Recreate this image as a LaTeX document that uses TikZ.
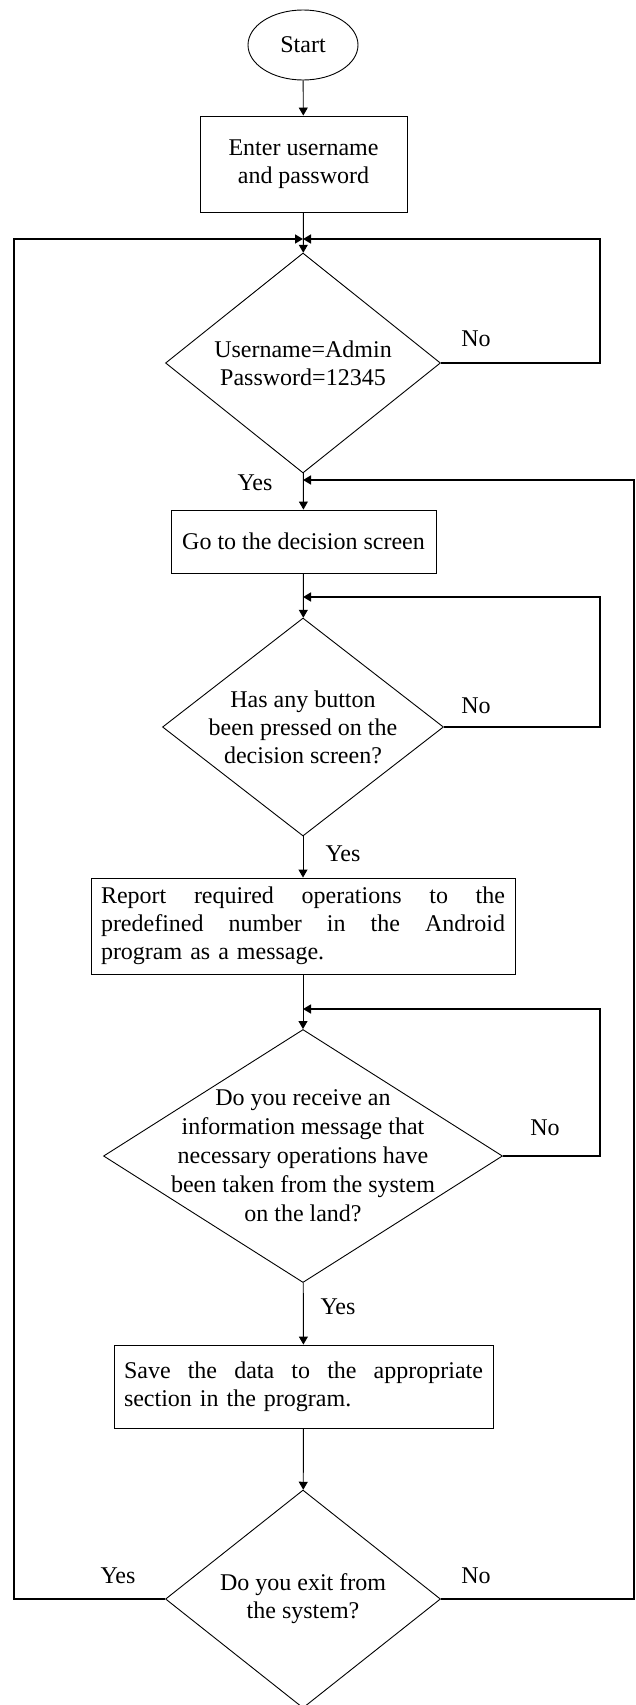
\documentclass[tikz,border=0pt]{standalone}
\usepackage{fontspec}
\setmainfont{Liberation Serif}
\usetikzlibrary{shapes.geometric,arrows.meta}

% linha justificada
\newcommand{\fullline}[2]{\makebox[#1][s]{\spaceskip=0pt\relax #2}}

\begin{document}
\begin{tikzpicture}[x=1pt,y=-1pt,
    font=\fontsize{24}{28}\selectfont,
    shapeline/.style={draw, line width=0.9pt},
    process/.style={shapeline, rectangle, align=center, inner sep=0pt},
    decision/.style={shapeline, diamond, inner sep=0pt},
    flow/.style={line width=0.9pt, -{Triangle[length=8pt,width=9pt]}},
    back/.style={line width=1.5pt, -{Triangle[length=8pt,width=9pt]}}]
      \useasboundingbox (0,0) rectangle (636,1705);

      % Inicio
      \node[shapeline, ellipse, minimum width=110, minimum height=70, inner sep=0pt] (start) at (303,45) {Start};
      \node[process, minimum width=207, minimum height=96] (enter) at (303.5,164) {Enter username\\and password};

      % Login
      \node[decision, minimum width=275, minimum height=220] (d1) at (303,363) {};
      \node[align=center] (d1t) at (d1) {Username=Admin\\Password=12345};
      \node[process, minimum width=265, minimum height=63] (go) at (303.5,541.5) {Go to the decision screen};

      % Botao
      \node[decision, minimum width=281, minimum height=218] (d2) at (303,727) {};
      \node[align=center] (d2t) at (d2) {Has any button\\been pressed on the\\decision screen?};
      \node[process, align=left, text width=404, inner xsep=10pt, minimum height=96] (report) at (303,926)
        {\fullline{404pt}{Report required operations to the}\\
         \fullline{404pt}{predefined number in the Android}\\
         program as a message.};

      % Mensagem
      \node[decision, minimum width=399, minimum height=253] (d3) at (303,1156) {};
      \node[align=center, font=\fontsize{24}{29}\selectfont] (d3t) at (d3) {Do you receive an\\information message that\\necessary operations have\\been taken from the system\\on the land?};
      \node[process, align=left, text width=359, inner xsep=10pt, minimum height=83] (save) at (303.5,1386.5)
        {\fullline{359pt}{Save the data to the appropriate}\\
         section in the program.};

      % Saida
      \node[decision, minimum width=275, minimum height=218] (d4) at (303,1599) {};
      \node[align=center] (d4t) at (d4) {Do you exit from\\the system?};

      % Pontos de juncao
      \coordinate (j1) at (303,239);
      \coordinate (j2) at (303,480);
      \coordinate (j3) at (303,597);
      \coordinate (j4) at (303,1009);
      \coordinate (l1) at (14,239);
      \coordinate (r1) at (600,239);
      \coordinate (r2) at (634,480);
      \coordinate (r3) at (600,597);
      \coordinate (r4) at (600,1009);

      % Setas principais
      \draw[flow] (start) -- (enter);
      \draw[flow] (enter) -- (d1);
      \draw[flow] (d1) -- (go);
      \draw[flow] (go) -- (d2);
      \draw[flow] (d2) -- (report);
      \draw[flow] (report) -- (d3);
      \draw[flow] (d3) -- (save);
      \draw[flow] (save) -- (d4);

      % Retornos
      \draw[back] (d1.east) -| (r1) -- (j1);
      \draw[back] (d4.west) -| (l1) -- (j1);
      \draw[back] (d4.east) -| (r2) -- (j2);
      \draw[back] (d2.east) -| (r3) -- (j3);
      \draw[back] (d3.east) -| (r4) -- (j4);

      % Rotulos
      \node (no1) at (476,339) {No};
      \node (yes1) at (255,483) {Yes};
      \node (no2) at (476,706) {No};
      \node (yes2) at (343,854) {Yes};
      \node (no3) at (545,1128) {No};
      \node (yes3) at (338,1307) {Yes};
      \node (yes4) at (118,1576) {Yes};
      \node (no4) at (476,1576) {No};
    \end{tikzpicture}
\end{document}
